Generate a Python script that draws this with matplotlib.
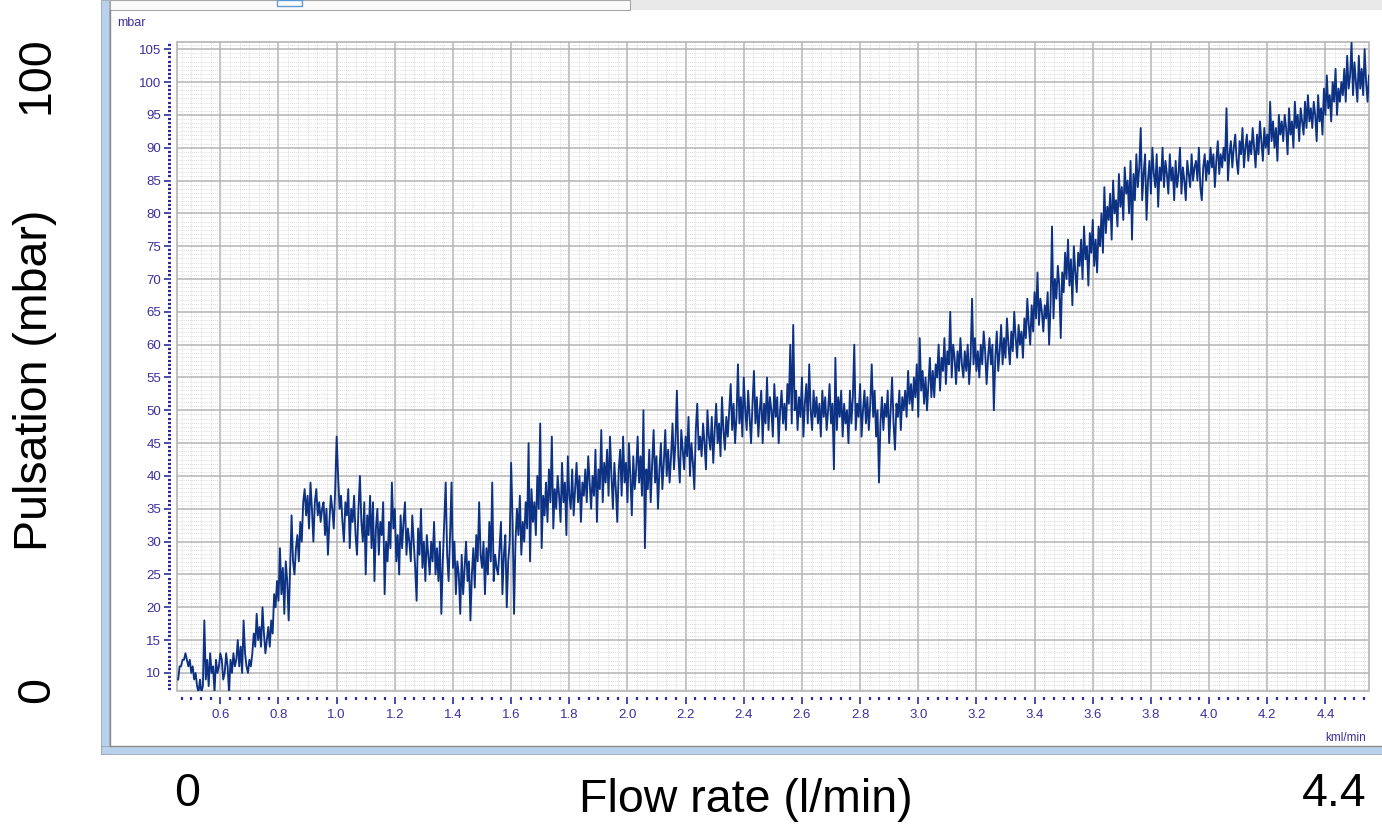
import numpy as np
import matplotlib
matplotlib.use("Agg")
import matplotlib.pyplot as plt
from matplotlib.patches import Rectangle
from matplotlib.ticker import MultipleLocator, FormatStrFormatter

# flow rate axis (kml/min): first sample and spacing of the trace
flow_start = 0.455
flow_step = 0.005

# pulsation in mbar, one row per 0.1 of flow
pulsation = [
    9, 11, 11, 12, 12, 13, 12, 11, 12, 10, 11, 9, 10, 8, 7, 9, 7, 8, 18, 9,
    12, 8, 13, 10, 11, 7, 12, 10, 11, 13, 12, 9, 10, 13, 11, 7, 12, 10, 13, 11,
    12, 15, 11, 14, 10, 18, 13, 11, 10, 12, 11, 13, 16, 14, 19, 15, 17, 14, 20, 16,
    13, 15, 17, 14, 18, 16, 22, 20, 24, 21, 29, 22, 26, 19, 27, 24, 18, 26, 34, 27,
    25, 29, 31, 27, 33, 30, 36, 38, 34, 37, 32, 39, 35, 30, 36, 38, 34, 36, 33, 35,
    36, 31, 35, 28, 33, 37, 35, 32, 38, 46, 40, 35, 37, 33, 30, 36, 34, 38, 29, 35,
    33, 37, 31, 28, 35, 40, 33, 30, 36, 25, 34, 31, 37, 29, 36, 24, 32, 35, 28, 33,
    31, 36, 22, 30, 27, 33, 29, 39, 32, 35, 27, 31, 25, 34, 29, 33, 36, 28, 32, 30,
    27, 34, 30, 26, 21, 32, 28, 35, 26, 30, 24, 31, 28, 25, 30, 27, 33, 25, 29, 24,
    30, 19, 27, 33, 39, 28, 24, 31, 39, 26, 30, 22, 27, 25, 19, 28, 22, 26, 30, 24,
    27, 18, 25, 29, 23, 31, 27, 36, 28, 26, 30, 22, 29, 25, 33, 27, 39, 24, 28, 26,
    25, 29, 33, 22, 28, 31, 20, 27, 30, 42, 33, 19, 30, 35, 31, 37, 28, 33, 30, 36,
    32, 45, 27, 38, 33, 36, 31, 40, 35, 48, 29, 37, 34, 39, 33, 41, 36, 46, 32, 38,
    35, 40, 37, 33, 42, 36, 39, 31, 43, 37, 35, 41, 34, 38, 42, 36, 40, 33, 39, 37,
    41, 36, 43, 39, 35, 40, 37, 44, 33, 41, 38, 47, 36, 42, 39, 44, 37, 46, 40, 35,
    42, 38, 33, 41, 44, 37, 46, 39, 42, 36, 45, 40, 34, 43, 38, 41, 46, 39, 43, 37,
    50, 29, 41, 38, 44, 36, 42, 47, 39, 43, 35, 41, 45, 38, 42, 47, 40, 44, 39, 43,
    48, 41, 45, 53, 43, 39, 47, 44, 41, 46, 43, 49, 40, 45, 42, 38, 47, 51, 44, 46,
    43, 48, 45, 41, 50, 46, 44, 49, 42, 47, 51, 45, 48, 43, 52, 47, 44, 49, 46, 50,
    54, 47, 51, 45, 49, 57, 48, 52, 46, 55, 50, 47, 53, 49, 45, 51, 56, 48, 52, 46,
    50, 53, 45, 51, 48, 55, 47, 52, 50, 46, 54, 49, 52, 45, 50, 53, 48, 51, 47, 54,
    51, 60, 48, 63, 50, 53, 47, 52, 49, 55, 46, 51, 54, 48, 57, 50, 47, 53, 49, 52,
    48, 51, 46, 53, 49, 52, 47, 50, 54, 48, 51, 41, 58, 47, 52, 49, 53, 46, 51, 48,
    50, 45, 53, 48, 52, 60, 47, 51, 49, 54, 46, 50, 53, 48, 52, 47, 51, 57, 49, 53,
    46, 50, 39, 48, 52, 47, 51, 49, 53, 45, 50, 55, 48, 44, 51, 49, 53, 47, 52, 50,
    53, 49, 56, 51, 54, 50, 55, 52, 57, 49, 61, 53, 56, 51, 55, 50, 54, 58, 52, 56,
    52, 57, 55, 60, 53, 58, 56, 61, 54, 59, 57, 65, 55, 60, 58, 54, 59, 56, 61, 57,
    55, 59, 56, 60, 54, 58, 67, 57, 61, 56, 59, 55, 60, 57, 62, 59, 54, 58, 61, 57,
    60, 50, 58, 62, 56, 59, 63, 57, 61, 58, 64, 60, 57, 62, 59, 65, 61, 58, 63, 60,
    62, 58, 64, 61, 67, 63, 60, 66, 62, 68, 64, 71, 63, 67, 65, 62, 66, 64, 68, 60,
    66, 78, 64, 70, 67, 72, 69, 61, 71, 68, 74, 70, 76, 69, 73, 66, 75, 71, 68, 74,
    72, 76, 70, 78, 73, 75, 69, 77, 74, 79, 72, 76, 71, 78, 75, 80, 74, 84, 77, 81,
    79, 83, 76, 85, 80, 82, 78, 86, 81, 84, 79, 87, 83, 85, 80, 88, 76, 86, 82, 89,
    84, 87, 93, 82, 86, 89, 79, 85, 88, 83, 90, 86, 84, 89, 81, 87, 85, 90, 84, 88,
    86, 83, 89, 85, 87, 82, 88, 84, 86, 90, 83, 87, 85, 82, 88, 86, 84, 89, 85, 87,
    88, 85, 90, 84, 82, 87, 89, 85, 88, 86, 90, 87, 89, 84, 88, 91, 86, 89, 87, 90,
    88, 96, 85, 89, 91, 87, 90, 92, 88, 86, 91, 89, 93, 87, 90, 92, 88, 91, 89, 93,
    90, 87, 92, 89, 94, 91, 88, 93, 90, 92, 89, 97, 91, 94, 90, 93, 88, 95, 92, 94,
    91, 95, 93, 89, 96, 92, 94, 90, 97, 93, 95, 91, 96, 94, 92, 97, 93, 98, 94, 96,
    93, 97, 95, 91, 98, 94, 96, 92, 99, 95, 101, 96, 98, 94, 100, 97, 102, 95, 99, 97,
    100, 98, 102, 97, 104, 99, 101, 106, 98, 103, 100, 97, 104, 99, 102, 98, 105, 100, 97, 101,
]

xticks = [0.6, 0.8, 1.0, 1.2, 1.4, 1.6, 1.8, 2.0, 2.2, 2.4, 2.6, 2.8, 3.0, 3.2,
          3.4, 3.6, 3.8, 4.0, 4.2, 4.4]
yticks = list(range(10, 106, 5))

W, H = 1382, 824
fig = plt.figure(figsize=(W / 100, H / 100), dpi=100)
fig.patch.set_facecolor("white")


def fx(x):
    return x / W


def fy(y):
    return 1 - y / H


# screenshot window frame
fig.add_artist(Rectangle((fx(630), fy(10)), fx(W - 630), 10 / H,
                         transform=fig.transFigure, facecolor="#e9e9e9", edgecolor="none"))
fig.add_artist(Rectangle((fx(110), fy(10)), fx(520), 10 / H,
                         transform=fig.transFigure, facecolor="#fbfbfb", edgecolor="#a8a8a8", lw=0.8))
fig.add_artist(Rectangle((fx(277), fy(6)), fx(25), 6 / H,
                         transform=fig.transFigure, facecolor="white", edgecolor="#5b9bd5", lw=1.0))
fig.add_artist(Rectangle((fx(101), fy(754)), fx(8), 754 / H,
                         transform=fig.transFigure, facecolor="#b8d1ec", edgecolor="#9aa6b2", lw=0.6))
fig.add_artist(Rectangle((fx(101), fy(754)), fx(W - 101), 8 / H,
                         transform=fig.transFigure, facecolor="#b8d1ec", edgecolor="#9aa6b2", lw=0.6))
fig.add_artist(plt.Line2D([fx(110), fx(110)], [fy(10), fy(746)], transform=fig.transFigure,
                          color="#8c8c8c", lw=1.0))
fig.add_artist(plt.Line2D([fx(110), fx(W)], [fy(746), fy(746)], transform=fig.transFigure,
                          color="#8c8c8c", lw=1.0))

ax = fig.add_axes([fx(177), fy(691), fx(1369 - 177), (691 - 42) / H])
x = flow_start + flow_step * np.arange(len(pulsation))
ax.plot(x, pulsation, color="#0d3183", lw=1.35, zorder=3)

ax.set_xlim(0.451, 4.55)
ax.set_ylim(7.25, 106.1)

ax.set_xticks(xticks)
ax.xaxis.set_major_formatter(FormatStrFormatter("%.1f"))
ax.xaxis.set_minor_locator(MultipleLocator(0.2 / 6))
ax.set_yticks(yticks)
ax.yaxis.set_minor_locator(MultipleLocator(0.625))

tick_col = "#2b2ba0"
for s in ax.spines.values():
    s.set_visible(False)
ax.spines["left"].set_position(("outward", 4.3))
ax.spines["bottom"].set_position(("outward", 4.3))
ax.tick_params(which="major", direction="out", length=5, width=1.2, colors=tick_col,
               labelsize=9.5, pad=2)
ax.tick_params(which="minor", direction="out", length=2.2, width=1.6, colors=tick_col)
ax.tick_params(axis="x", which="major", pad=4)
for lab in ax.get_xticklabels() + ax.get_yticklabels():
    lab.set_fontfamily("Liberation Sans")
    lab.set_color("#3a2f9e")

ax.grid(which="minor", color="#d0d0d0", lw=0.6, linestyle=(0, (1, 1.5)), zorder=0)
ax.grid(which="major", color="#b4b4b4", lw=1.1, zorder=1)
ax.set_axisbelow(True)
ax.add_patch(Rectangle((0, 0), 1, 1, transform=ax.transAxes, fill=False,
                       edgecolor="#b4b4b4", lw=1.2, zorder=2, clip_on=False))

fig.text(fx(117), fy(23), "mbar", fontsize=9, color="#3a2f9e", family="Liberation Sans",
         va="center", ha="left")
fig.text(fx(1366), fy(738), "kml/min", fontsize=8.5, color="#3a2f9e", family="Liberation Sans",
         va="center", ha="right")

# overlaid slide labels
big = dict(fontsize=33.5, color="black", family="Liberation Sans")
fig.text(fx(37), fy(75), "100", rotation=90, ha="center", va="center", **big)
fig.text(fx(35), fy(380), "Pulsation (mbar)", rotation=90, ha="center", va="center", **big)
fig.text(fx(37), fy(690), "0", rotation=90, ha="center", va="center", **big)
fig.text(fx(187), fy(794), "0", ha="center", va="center", **big)
fig.text(fx(746), fy(800), "Flow rate (l/min)", ha="center", va="center", **big)
fig.text(fx(1334), fy(794), "4.4", ha="center", va="center", **big)

fig.savefig("out.png", dpi=100)
